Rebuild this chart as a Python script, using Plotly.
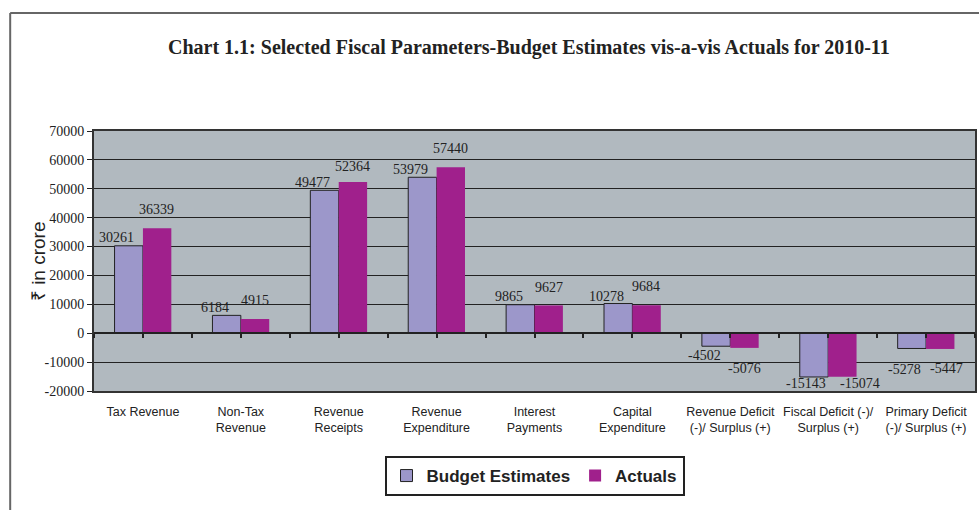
import plotly.graph_objects as go

# data
categories = [
    "Tax Revenue", "Non-Tax<br>Revenue", "Revenue<br>Receipts", "Revenue<br>Expenditure",
    "Interest<br>Payments", "Capital<br>Expenditure", "Revenue Deficit<br>(-)/ Surplus (+)",
    "Fiscal Deficit (-)/<br>Surplus (+)", "Primary Deficit<br>(-)/ Surplus (+)",
]
budget_estimates = [30261, 6184, 49477, 53979, 9865, 10278, -4502, -15143, -5278]
actuals = [36339, 4915, 52364, 57440, 9627, 9684, -5076, -15074, -5447]
y_ticks = [-20000, -10000, 0, 10000, 20000, 30000, 40000, 50000, 60000, 70000]

# label offsets in px (Excel staggered the value labels)
budget_label_dx = [-26, -26, -26, -26, -26, -26, -26, -22, -22]
budget_label_dy = [8, 8, 8, 8, 8, 7, -9, -7, -21]
actual_label_dx = [14, 14, 14, 14, 14, 14, 14, 32, 20]
actual_label_dy = [19, 19, 15, 19, 18, 19, -21, -7, -20]

BUDGET = "#9C97CA"
ACTUAL = "#A0208C"
PLOT_BG = "#B1B9BF"
INK = "#222222"
SERIF = "Liberation Serif, Times New Roman, serif"
SANS = "Liberation Sans, Arial, sans-serif"

fig = go.Figure()
fig.add_trace(go.Bar(
    name="Budget Estimates", x=categories, y=budget_estimates,
    marker=dict(color=BUDGET, line=dict(color=INK, width=1)),
))
fig.add_trace(go.Bar(
    name="Actuals", x=categories, y=actuals,
    marker=dict(color=ACTUAL, line=dict(width=0)),
))

for cat, v, dx, dy in zip(categories, budget_estimates, budget_label_dx, budget_label_dy):
    fig.add_annotation(x=cat, y=v, text=str(v), showarrow=False, xshift=dx, yshift=dy,
                       yanchor="middle", font=dict(family=SERIF, size=14, color=INK))
for cat, v, dx, dy in zip(categories, actuals, actual_label_dx, actual_label_dy):
    fig.add_annotation(x=cat, y=v, text=str(v), showarrow=False, xshift=dx, yshift=dy,
                       yanchor="middle", font=dict(family=SERIF, size=14, color=INK))

# zero line with tick marks (centres and boundaries)
n = len(categories)
tick_pos = [i * 0.5 - 0.5 for i in range(2 * n + 1)]

fig.update_layout(
    width=979, height=510,
    margin=dict(l=94, r=2, t=131, b=119),
    paper_bgcolor="white", plot_bgcolor=PLOT_BG,
    barmode="group", bargap=0.42, bargroupgap=0,
    showlegend=True,
    legend=dict(
        orientation="h", x=0.5, xanchor="center", y=-0.25, yanchor="top",
        bordercolor=INK, borderwidth=2, bgcolor="white",
        font=dict(family=SANS, size=17, color=INK, weight="bold"),
        itemwidth=30,
    ),
    xaxis=dict(
        type="category", showgrid=False, ticks="", showline=True, mirror=True,
        linecolor="#333333", linewidth=2,
        tickfont=dict(family=SANS, size=12.5, color=INK), ticklabelstandoff=8,
    ),
    xaxis2=dict(
        overlaying="x", anchor="free", position=2 / 9, range=[-0.5, n - 0.5],
        tickvals=tick_pos, ticks="outside", ticklen=4, tickwidth=2, tickcolor=INK,
        showticklabels=False, showgrid=False, zeroline=False,
        showline=True, linecolor=INK, linewidth=2,
    ),
    yaxis=dict(
        range=[-20000, 70000], tickvals=y_ticks, ticktext=[str(t) for t in y_ticks],
        showgrid=True, gridcolor=INK, gridwidth=1,
        zeroline=False, showline=True, mirror=True, linecolor="#333333", linewidth=2,
        ticks="outside", ticklen=5, tickcolor=INK,
        tickfont=dict(family=SERIF, size=14, color=INK),
    ),
)

# invisible trace on the overlay axis so it renders
fig.add_trace(go.Scatter(x=[0], y=[0], xaxis="x2", mode="markers",
                         marker=dict(opacity=0), showlegend=False, hoverinfo="skip"))

# y axis title, set close to the tick labels as in the original
fig.add_annotation(
    text="₹ in crore", xref="paper", yref="paper", x=(38 - 94) / 883, y=0.5,
    textangle=-90, xanchor="center", yanchor="middle", showarrow=False,
    font=dict(family=SANS, size=19, color=INK),
)

fig.add_annotation(
    text="<b>Chart 1.1: Selected Fiscal Parameters-Budget Estimates vis-a-vis Actuals for 2010-11</b>",
    xref="paper", yref="paper", x=(530 - 94) / 883, y=1 + (131 - 47) / 260,
    xanchor="center", yanchor="middle", showarrow=False,
    font=dict(family=SERIF, size=20, color=INK),
)

# outer frame (top and left edges)
fig.add_shape(type="line", xref="paper", yref="paper",
              x0=-84 / 883, x1=1.01, y0=1 + 118 / 260, y1=1 + 118 / 260,
              line=dict(color="#666666", width=2))
fig.add_shape(type="line", xref="paper", yref="paper",
              x0=-84 / 883, x1=-84 / 883, y0=1 + 118 / 260, y1=-0.5,
              line=dict(color="#666666", width=2))

fig.write_html("out.html", config={"displayModeBar": False},
               post_script="document.body.style.margin='0';")
